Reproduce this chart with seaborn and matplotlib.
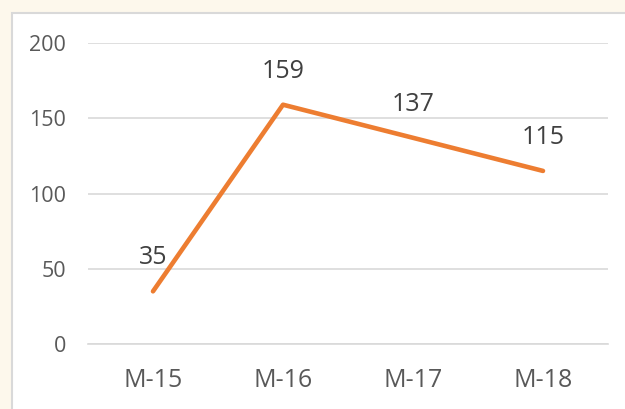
import matplotlib
matplotlib.use("Agg")
import matplotlib.pyplot as plt
import seaborn as sns
import pandas as pd
from matplotlib.patches import Rectangle

categories = ["M-15", "M-16", "M-17", "M-18"]
values = [35, 159, 137, 115]

sns.set_theme(style="white")
plt.rcParams['font.family'] = ['Open Sans', 'DejaVu Sans']

fig = plt.figure(figsize=(6.25, 4.09), dpi=100)
fig.patch.set_facecolor("#FDF8EC")
panel = Rectangle((12/625, -0.05), 1.0, 1 - 13/409 + 0.05, transform=fig.transFigure,
                  facecolor="white", edgecolor="#D9D9D9", linewidth=1.5, zorder=-10)
fig.patches.append(panel)

ax = fig.add_axes([88/625, 1 - 344/409, 520/625, 301/409])
ax.set_zorder(5)
ax.patch.set_visible(False)
df = pd.DataFrame({"cat": categories, "val": values})
sns.lineplot(data=df, x="cat", y="val", color="#ED7D31", linewidth=3.3, ax=ax, sort=False)

ax.set_xlim(-0.5, 3.5)
ax.set_ylim(0, 200)
ax.set_yticks([0, 50, 100, 150, 200])
ax.yaxis.grid(True, color="#D9D9D9", linewidth=1.2)
ax.set_axisbelow(True)
for s in ax.spines.values():
    s.set_visible(False)
ax.spines['bottom'].set_visible(True)
ax.spines['bottom'].set_color("#D9D9D9")
ax.spines['bottom'].set_linewidth(1.2)
ax.tick_params(axis='both', length=0, labelcolor="#595959")
ax.tick_params(axis='y', pad=16, labelsize=15.5)
ax.tick_params(axis='x', pad=17, labelsize=18)
ax.set_xlabel("")
ax.set_ylabel("")

for i, v in enumerate(values):
    ax.annotate(str(v), (i, v), xytext=(0, 24), textcoords="offset points",
                ha="center", va="center", fontsize=18, color="#404040")

fig.savefig("out.png", dpi=100, facecolor=fig.get_facecolor())
